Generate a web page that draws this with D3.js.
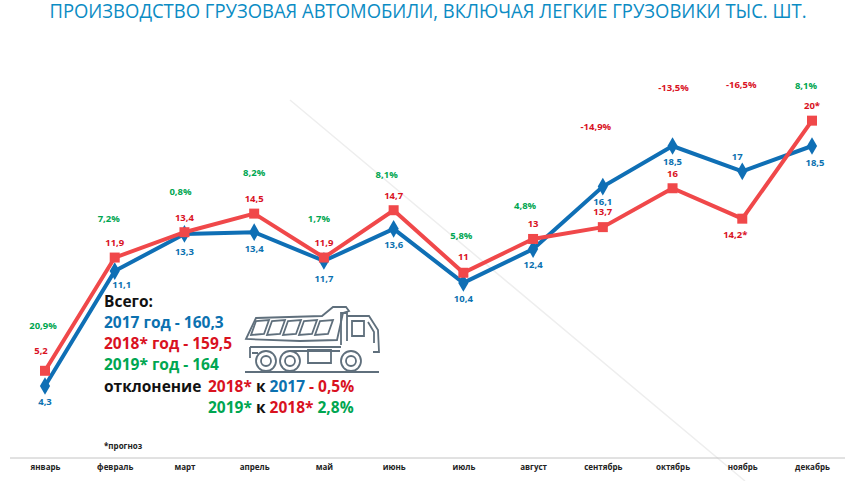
<!DOCTYPE html>
<html>
<head>
<meta charset="utf-8">
<script src="https://cdn.jsdelivr.net/npm/d3@7"></script>
<style>
  html, body { margin: 0; padding: 0; background: #fff; }
  text { font-family: "Open Sans", sans-serif; }
  .small { font-size: 9.5px; font-weight: 700; text-anchor: middle; }
  .info { font-family: "Open Sans", sans-serif; font-size: 15.5px; font-weight: 700; }
  .truck * { fill: none; stroke: #5f6f7c; stroke-width: 1.8; }
</style>
</head>
<body>
<svg id="chart" width="850" height="481"></svg>
<script>
const months = ["январь", "февраль", "март", "апрель", "май", "июнь", "июль", "август", "сентябрь", "октябрь", "ноябрь", "декабрь"];
const values2017 = [4.3, 11.1, 13.3, 13.4, 11.7, 13.6, 10.4, 12.4, 16.1, 18.5, 17, 18.5];
const values2018 = [5.2, 11.9, 13.4, 14.5, 11.9, 14.7, 11, 13, 13.7, 16, 14.2, 20];
const labels2018 = ["5,2", "11,9", "13,4", "14,5", "11,9", "14,7", "11", "13", "13,7", "16", "14,2*", "20*"];
const changes = ["20,9%", "7,2%", "0,8%", "8,2%", "1,7%", "8,1%", "5,8%", "4,8%", "-14,9%", "-13,5%", "-16,5%", "8,1%"];

// label offsets from the point, px
const offset2017 = [[0, 16], [7, 14], [0, 18], [0, 16], [0, 18], [0, 16], [0, 16], [0, 16], [0, 15], [0, 16], [-5, -15], [3, 17]];
const offset2018 = [[-4, -20], [0, -15], [0, -15], [0, -15], [0, -15], [0, -15], [0, -16], [0, -15], [0, -15], [0, -15], [-7, 16], [0, -15]];
const offsetChange = [[-2, -45], [-6, -39], [-4, -41], [0, -41], [-5, -39], [-7, -36], [-2, -37], [-8, -33], [-7, -60], [1, -58], [-1, -87], [-6, -35]];

const colorBlue = "#0f6fb5", colorRed = "#f0484a";
const textBlue = "#0b71b0", textRed = "#d9121f", textGreen = "#00a651";

const svg = d3.select("#chart");
const x = d3.scalePoint().domain(months).range([45, 812]);
const y = d3.scaleLinear().domain([4.3, 18.5]).range([386, 146]);

// faint scanner lines behind the chart
svg.append("line").attr("x1", 290).attr("y1", 100).attr("x2", 745).attr("y2", 481)
  .attr("stroke", "#eeeeee").attr("stroke-width", 1.5);

svg.append("text").attr("x", 428).attr("y", 18).attr("text-anchor", "middle")
  .attr("fill", "#0b8cc4").style("font-size", "19.5px")
  .attr("textLength", 757).attr("lengthAdjust", "spacingAndGlyphs")
  .text("ПРОИЗВОДСТВО ГРУЗОВАЯ АВТОМОБИЛИ, ВКЛЮЧАЯ ЛЕГКИЕ ГРУЗОВИКИ ТЫС. ШТ.");

// month axis
const axis = svg.append("g").attr("transform", "translate(0,458)")
  .call(d3.axisBottom(x).tickSize(0).tickPadding(6));
axis.select(".domain").remove();
svg.append("line").attr("x1", 10).attr("x2", 845).attr("y1", 458).attr("y2", 458)
  .attr("stroke", "#c4c4c4");
axis.selectAll("text").attr("fill", "#222").style("font-size", "8px")
  .style("font-family", "Open Sans").style("font-weight", 700);

const line = d3.line().x((d, i) => x(months[i])).y(d => y(d));

svg.append("path").datum(values2017).attr("d", line).attr("fill", "none")
  .attr("stroke", colorBlue).attr("stroke-width", 4);
svg.selectAll(".m17").data(values2017).join("path").attr("class", "m17")
  .attr("d", d3.symbol(d3.symbolDiamond, 90))
  .attr("transform", (d, i) => `translate(${x(months[i])},${y(d)})`)
  .attr("fill", colorBlue);

svg.append("path").datum(values2018).attr("d", line).attr("fill", "none")
  .attr("stroke", colorRed).attr("stroke-width", 4);
svg.selectAll(".m18").data(values2018).join("path").attr("class", "m18")
  .attr("d", d3.symbol(d3.symbolSquare, 100))
  .attr("transform", (d, i) => `translate(${x(months[i])},${y(d)})`)
  .attr("fill", colorRed);

// value labels
svg.selectAll(".l17").data(values2017).join("text").attr("class", "small l17")
  .attr("x", (d, i) => x(months[i]) + offset2017[i][0])
  .attr("y", (d, i) => y(d) + offset2017[i][1])
  .attr("dy", "0.35em").attr("fill", textBlue)
  .text(d => String(d).replace(".", ","));
svg.selectAll(".l18").data(labels2018).join("text").attr("class", "small l18")
  .attr("x", (d, i) => x(months[i]) + offset2018[i][0])
  .attr("y", (d, i) => y(values2018[i]) + offset2018[i][1])
  .attr("dy", "0.35em").attr("fill", textRed)
  .text(d => d);
svg.selectAll(".lc").data(changes).join("text").attr("class", "small lc")
  .attr("x", (d, i) => x(months[i]) + offsetChange[i][0])
  .attr("y", (d, i) => Math.min(y(values2018[i]), y(values2017[i])) + offsetChange[i][1])
  .attr("dy", "0.35em")
  .attr("fill", d => d[0] === "-" ? textRed : textGreen)
  .text(d => d);

// summary block
const info = [
  [104, 307, [["Всего:", "#111"]]],
  [104, 328, [["2017 год - 160,3", textBlue]]],
  [104, 349, [["2018* год - 159,5", textRed]]],
  [104, 370, [["2019* год - 164", textGreen]]],
  [104, 392, [["отклонение", "#111"]]],
  [208, 392, [["2018*", textRed], [" к ", "#111"], ["2017", textBlue], [" - 0,5%", textRed]]],
  [208, 413, [["2019*", textGreen], [" к ", "#111"], ["2018*", textRed], [" 2,8%", textGreen]]]
];
info.forEach(([tx, ty, parts]) => {
  const t = svg.append("text").attr("class", "info").attr("x", tx).attr("y", ty).attr("xml:space", "preserve");
  parts.forEach(([s, c]) => t.append("tspan").attr("fill", c).text(s));
});
svg.append("text").attr("x", 104).attr("y", 449).attr("fill", "#222")
  .style("font-size", "8px").style("font-weight", 700).text("*прогноз");

// dump truck icon
const truck = svg.append("g").attr("class", "truck");
truck.append("path").attr("d", "M246 339 L256 318 L322 316 L333 307 L346 307 L349 311 L343 313 L337 340 L300 341 Z");
[0, 1, 2, 3, 4].forEach(i => {
  truck.append("path").attr("d", `M${251 + i * 16} 335 L${256 + i * 16} 321 L${269 + i * 16} 320 L${264 + i * 16} 334 Z`);
});
truck.append("path").attr("d", "M347 316 L369 316 L378 330 L379 352 L373 352 M341 345 L341 313 L347 313 L347 341");
truck.append("path").attr("d", "M352 321 L364 321 L364 336 L352 336 Z M368 322 L374 332 L374 343");
truck.append("path").attr("d", "M250 347 L250 358 M250 347 L341 347 M252 353 L258 353 M290 351 L340 351");
truck.append("path").attr("d", "M308 350 L331 350 L331 363 L308 363 Z");
[[266, 1], [290, 1], [351, 1]].forEach(([cx]) => {
  truck.append("circle").attr("cx", cx).attr("cy", 361).attr("r", 10);
  truck.append("circle").attr("cx", cx).attr("cy", 361).attr("r", 5);
});
truck.append("line").attr("x1", 245).attr("x2", 379).attr("y1", 372).attr("y2", 372);
</script>
</body>
</html>
